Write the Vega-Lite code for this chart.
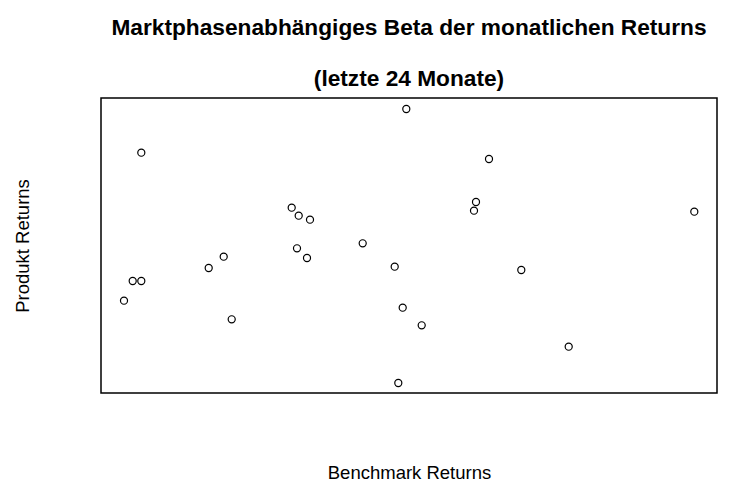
{
  "$schema": "https://vega.github.io/schema/vega-lite/v6.json",
  "autosize": "none",
  "width": 616,
  "height": 295,
  "padding": {"left": 101, "top": 98, "right": 38, "bottom": 110},
  "background": "white",
  "title": {
    "text": ["Marktphasenabhängiges Beta der monatlichen Returns", "(letzte 24 Monate)"],
    "font": "Liberation Sans",
    "fontSize": 22.7,
    "fontWeight": "bold",
    "color": "black",
    "anchor": "middle",
    "lineHeight": 51,
    "baseline": "alphabetic",
    "offset": -11
  },
  "data": {
    "values": [
      {"benchmark": 406.3, "produkt": 394.0},
      {"benchmark": 141.3, "produkt": 350.3},
      {"benchmark": 489.0, "produkt": 344.0},
      {"benchmark": 291.7, "produkt": 295.3},
      {"benchmark": 298.7, "produkt": 287.3},
      {"benchmark": 310.0, "produkt": 283.3},
      {"benchmark": 476.0, "produkt": 301.0},
      {"benchmark": 474.0, "produkt": 292.3},
      {"benchmark": 694.3, "produkt": 291.3},
      {"benchmark": 362.7, "produkt": 259.7},
      {"benchmark": 297.0, "produkt": 254.7},
      {"benchmark": 307.0, "produkt": 245.0},
      {"benchmark": 223.7, "produkt": 246.3},
      {"benchmark": 208.7, "produkt": 235.0},
      {"benchmark": 394.7, "produkt": 236.3},
      {"benchmark": 521.3, "produkt": 233.0},
      {"benchmark": 132.7, "produkt": 222.0},
      {"benchmark": 141.3, "produkt": 222.0},
      {"benchmark": 124.0, "produkt": 202.3},
      {"benchmark": 402.7, "produkt": 195.3},
      {"benchmark": 231.7, "produkt": 183.7},
      {"benchmark": 421.7, "produkt": 177.7},
      {"benchmark": 568.7, "produkt": 156.3},
      {"benchmark": 398.3, "produkt": 120.0}
    ]
  },
  "mark": {"type": "point", "shape": "circle", "filled": false, "stroke": "black", "strokeWidth": 1.2, "size": 50, "opacity": 1},
  "encoding": {
    "x": {
      "field": "benchmark",
      "type": "quantitative",
      "scale": {"domain": [101, 717], "nice": false, "zero": false},
      "axis": {
        "title": "Benchmark Returns",
        "domain": false, "ticks": false, "labels": false, "grid": false,
        "titleFont": "Liberation Sans", "titleFontSize": 18.5, "titleFontWeight": "normal",
        "titleColor": "black", "titlePadding": 70
      }
    },
    "y": {
      "field": "produkt",
      "type": "quantitative",
      "scale": {"domain": [110, 405], "nice": false, "zero": false},
      "axis": {
        "title": "Produkt Returns",
        "domain": false, "ticks": false, "labels": false, "grid": false,
        "titleFont": "Liberation Sans", "titleFontSize": 18.5, "titleFontWeight": "normal",
        "titleColor": "black", "titlePadding": 69
      }
    }
  },
  "config": {
    "view": {"stroke": "black", "strokeWidth": 1.5}
  }
}
